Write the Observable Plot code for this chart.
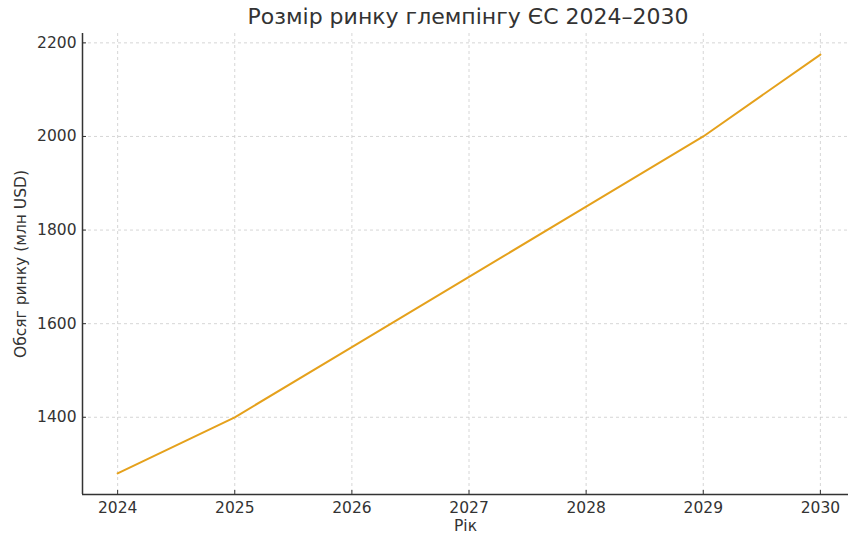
<!DOCTYPE html>
<html><head><meta charset="utf-8">
<script src="https://cdn.jsdelivr.net/npm/d3@7"></script>
<script src="https://cdn.jsdelivr.net/npm/@observablehq/plot@0.6"></script>
<style>
body{margin:0;background:#fff;overflow:hidden;font-family:"DejaVu Sans",sans-serif;}
#title{height:30px;width:848px;position:relative;}
#title span{position:absolute;left:468px;top:4px;transform:translateX(-50%);font-size:22px;color:#333;white-space:nowrap;}
</style></head>
<body>
<div id="title"><span>Розмір ринку глемпінгу ЄС 2024–2030</span></div>
<div id="chart"></div>
<script>
const years = [2024, 2025, 2026, 2027, 2028, 2029, 2030];
const marketSize = [1280, 1400, 1550, 1700, 1850, 2000, 2175];
const yTicks = [1400, 1600, 1800, 2000, 2200];
const data = years.map((y, i) => ({year: y, value: marketSize[i]}));
const xDomain = [2023.7, 2030.24];
const yDomain = [1235, 2220];
const plot = Plot.plot({
  width: 848,
  height: 503,
  marginLeft: 82,
  marginRight: 0,
  marginTop: 3,
  marginBottom: 39,
  style: {fontFamily: "DejaVu Sans, sans-serif", fontSize: "15.5px", color: "#333", background: "#fff"},
  x: {domain: xDomain},
  y: {domain: yDomain},
  marks: [
    Plot.gridX(years, {stroke: "#ccc", strokeOpacity: 1, strokeDasharray: "3,3", strokeWidth: 0.8}),
    Plot.gridY(yTicks, {stroke: "#ccc", strokeOpacity: 1, strokeDasharray: "3,3", strokeWidth: 0.8}),
    Plot.axisX(years, {tickSize: 0, tickPadding: 7, tickFormat: d => String(d), label: "Рік", labelAnchor: "center", labelArrow: "none", labelOffset: 36, fontSize: 15.5}),
    Plot.axisX(years, {tickSize: -4, tickFormat: () => "", label: null, stroke: "#333"}),
    Plot.axisY(yTicks, {tickSize: 0, tickPadding: 6, tickFormat: d => String(d), label: "Обсяг ринку (млн USD)", labelAnchor: "center", labelArrow: "none", labelOffset: 68}),
    Plot.axisY(yTicks, {tickSize: -4, tickFormat: () => "", label: null, stroke: "#333"}),
    Plot.ruleY([yDomain[0]], {stroke: "#333", strokeWidth: 1.5}),
    Plot.ruleX([xDomain[0]], {stroke: "#333", strokeWidth: 1.5}),
    Plot.line(data, {x: "year", y: "value", stroke: "#E5A11C", strokeWidth: 2})
  ]
});
document.getElementById("chart").appendChild(plot);
</script>
</body></html>
